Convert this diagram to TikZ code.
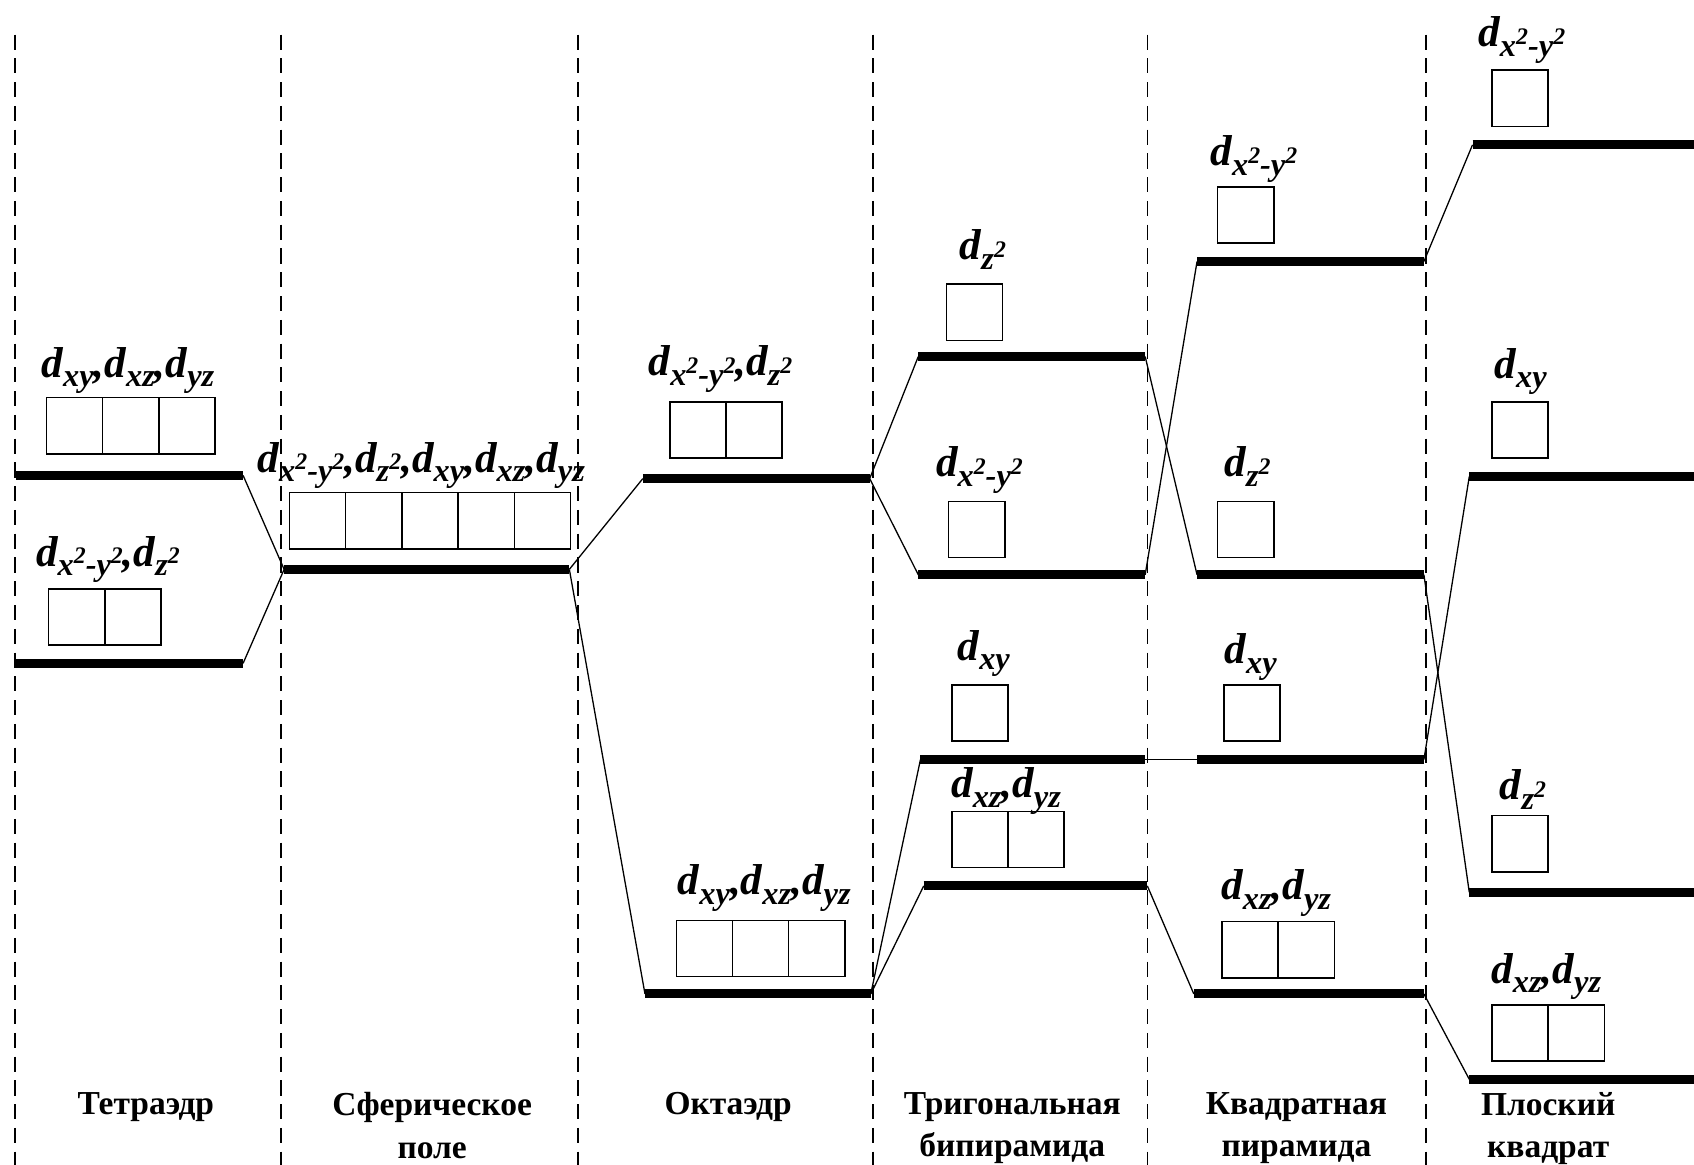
\documentclass[tikz,border=0pt]{standalone}
\usepackage{fontspec}
\setmainfont{Liberation Serif}
\tikzset{
  bar/.style={line width=4.2pt},
  link/.style={line width=0.6pt},
  sepline/.style={line width=0.6pt, dash pattern=on 7pt off 4pt},
  orb/.style={draw, line width=0.7pt, minimum width=26pt, minimum height=26pt, inner sep=0pt},
  lab/.style={font=\fontsize{20}{20}\selectfont\bfseries\itshape, inner sep=0pt, anchor=base west},
  geo/.style={font=\fontsize{15.5}{19.5}\selectfont\bfseries, align=center, inner sep=0pt, anchor=north}
}
\newcommand{\dorb}[1]{d\raisebox{-4.5pt}{\fontsize{15}{15}\selectfont #1}}
\newcommand{\sqtwo}{\raisebox{5.5pt}{\fontsize{11}{11}\selectfont 2}}
\newcommand{\xy}{x\sqtwo-y\sqtwo}
\newcommand{\zz}{z\sqtwo}
\newcommand{\level}[4]{\coordinate (#1l) at (#2,#4); \coordinate (#1r) at (#3,#4); \draw[bar] (#1l) -- (#1r);}
\newcommand{\orbset}[4]{\foreach \i in {1,...,#4}{\node[orb] (#1b\i) at ({#2+52*\i-26},{#3+26}) {};}}
\begin{document}
\begin{tikzpicture}[x=0.5pt,y=-0.5pt]
\useasboundingbox (0,0) rectangle (1568,1078);
% separators
\foreach \n/\x in {s0/14,s1/260,s2/535,s3/808,s4/1062,s5/1320}{
  \coordinate (\n t) at (\x,32); \coordinate (\n b) at (\x,1078);
  \draw[sepline] (\n t) -- (\n b);
}
% levels
\level{T1}{15}{225}{440}
\level{T2}{15}{225}{614}
\level{S1}{263}{527}{527}
\level{O1}{595}{805}{443}
\level{O2}{597}{806}{920}
\level{B1}{850}{1060}{330}
\level{B2}{850}{1060}{532}
\level{B3}{852}{1060}{703}
\level{B4}{855}{1062}{820}
\level{P1}{1108}{1318}{242}
\level{P2}{1108}{1318}{532}
\level{P3}{1108}{1318}{703}
\level{P4}{1105}{1318}{920}
\level{Q1}{1363}{1568}{134}
\level{Q2}{1360}{1568}{441}
\level{Q3}{1360}{1568}{826}
\level{Q4}{1360}{1568}{999}
% connectors
\draw[link] (T1r) -- (S1l);
\draw[link] (T2r) -- (S1l);
\draw[link] (S1r) -- (O1l);
\draw[link] (S1r) -- (O2l);
\draw[link] (O1r) -- (B1l);
\draw[link] (O1r) -- (B2l);
\draw[link] (O2r) -- (B3l);
\draw[link] (O2r) -- (B4l);
\draw[link] (B1r) -- (P2l);
\draw[link] (B2r) -- (P1l);
\draw[link] (B3r) -- (P3l);
\draw[link] (B4r) -- (P4l);
\draw[link] (P1r) -- (Q1l);
\draw[link] (P2r) -- (Q3l);
\draw[link] (P3r) -- (Q2l);
\draw[link] (P4r) -- (Q4l);
% orbital boxes
\orbset{T1}{43}{368}{3}
\orbset{T2}{45}{545}{2}
\orbset{S1}{268}{456}{5}
\orbset{O1}{620}{372}{2}
\orbset{O2}{626}{852}{3}
\orbset{B1}{876}{263}{1}
\orbset{B2}{878}{464}{1}
\orbset{B3}{881}{634}{1}
\orbset{B4}{881}{751}{2}
\orbset{P1}{1127}{173}{1}
\orbset{P2}{1127}{464}{1}
\orbset{P3}{1133}{634}{1}
\orbset{P4}{1131}{853}{2}
\orbset{Q1}{1381}{65}{1}
\orbset{Q2}{1381}{372}{1}
\orbset{Q3}{1381}{755}{1}
\orbset{Q4}{1381}{930}{2}
% labels
\node[lab] (T1t) at (38,349) {\dorb{xy},\dorb{xz},\dorb{yz}};
\node[lab] (T2t) at (33,524) {\dorb{\xy},\dorb{\zz}};
\node[lab] (S1t) at (238,437) {\dorb{\xy},\dorb{\zz},\dorb{xy},\dorb{xz},\dorb{yz}};
\node[lab] (O1t) at (600,348) {\dorb{\xy},\dorb{\zz}};
\node[lab] (O2t) at (627,828) {\dorb{xy},\dorb{xz},\dorb{yz}};
\node[lab] (B1t) at (888,240) {\dorb{\zz}};
\node[lab] (B2t) at (866,441) {\dorb{\xy}};
\node[lab] (B3t) at (886,611) {\dorb{xy}};
\node[lab] (B4t) at (880,738) {\dorb{xz},\dorb{yz}};
\node[lab] (P1t) at (1120,153) {\dorb{\xy}};
\node[lab] (P2t) at (1133,441) {\dorb{\zz}};
\node[lab] (P3t) at (1133,614) {\dorb{xy}};
\node[lab] (P4t) at (1130,833) {\dorb{xz},\dorb{yz}};
\node[lab] (Q1t) at (1368,43) {\dorb{\xy}};
\node[lab] (Q2t) at (1383,350) {\dorb{xy}};
\node[lab] (Q3t) at (1388,740) {\dorb{\zz}};
\node[lab] (Q4t) at (1380,910) {\dorb{xz},\dorb{yz}};
% geometry names
\node[geo] (g1) at (135,1011) {Тетраэдр};
\node[geo] (g2) at (400,1011) {Сферическое\\поле};
\node[geo] (g3) at (674,1011) {Октаэдр};
\node[geo] (g4) at (937,1011) {Тригональная\\бипирамида};
\node[geo] (g5) at (1200,1011) {Квадратная\\пирамида};
\node[geo] (g6) at (1433,1011) {Плоский\\квадрат};
\end{tikzpicture}
\end{document}
